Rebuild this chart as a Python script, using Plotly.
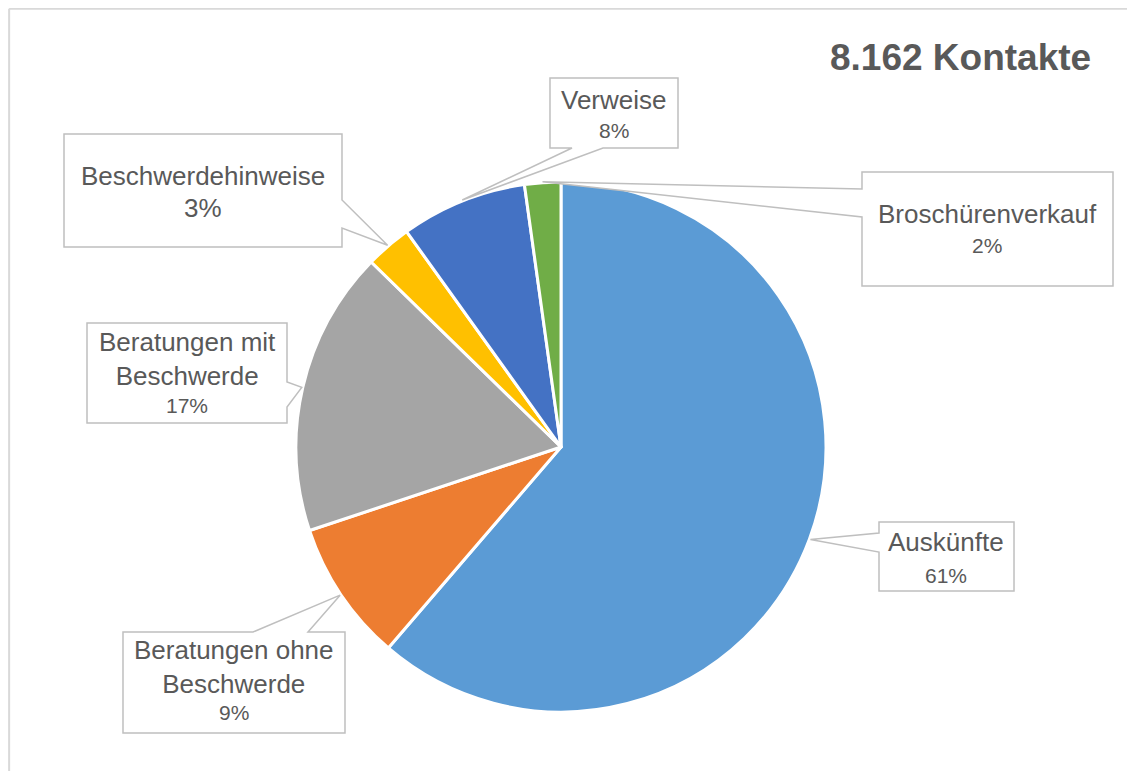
import math
import plotly.graph_objects as go

# ---------------- data ----------------
categories = ["Auskünfte", "Beratungen ohne Beschwerde", "Beratungen mit Beschwerde",
              "Beschwerdehinweise", "Verweise", "Broschürenverkauf"]
label_lines = ["Auskünfte", "Beratungen ohne<br>Beschwerde", "Beratungen mit<br>Beschwerde",
               "Beschwerdehinweise", "Verweise", "Broschürenverkauf"]
values = [5003, 702, 1420, 229, 628, 180]
colors = ["#5B9BD5", "#ED7D31", "#A5A5A5", "#FFC000", "#4472C4", "#70AD47"]
title_text = "8.162 Kontakte"

# ---------------- layout constants ----------------
OFF = 8                      # page offset of the figure (body margin)
W, H = 1135 - OFF, 771 - OFF
CX, CY, R = 561, 447, 265
TEXT = "#595959"
EDGE = "#BFBFBF"

def px(x):
    return (x - OFF) / W

def py(y):
    return 1 - (y - OFF) / H

# callout boxes (page-pixel layout): box l,t,r,b ; pointer side ; two base points ;
# name centre y ; pct centre y ; text centre x ; pct font size
callouts = [
    dict(box=(879, 522, 1014, 591), side="left", base=(533, 552), ny=542, py_=575, tx=946, pfs=21),
    dict(box=(123, 632, 345, 733), side="top", base=(253, 308), ny=667, py_=712, tx=234, pfs=21),
    dict(box=(87, 323, 287, 423), side="right", base=(382, 407), ny=359, py_=405, tx=187, pfs=21),
    dict(box=(64, 134, 342, 247), side="right", base=(200, 228), ny=176, py_=208, tx=203, pfs=26),
    dict(box=(550, 78, 678, 148), side="bottom", base=(572, 603), ny=100, py_=130, tx=614, pfs=21),
    dict(box=(862, 172, 1113, 286), side="left", base=(189, 217), ny=214, py_=245, tx=987, pfs=21),
]

total = sum(values)
fig = go.Figure()
fig.add_trace(go.Pie(
    labels=categories, values=values, sort=False, direction="clockwise", rotation=0,
    marker=dict(colors=colors, line=dict(color="white", width=3)),
    textinfo="none", hoverinfo="label+value+percent", showlegend=False,
    domain=dict(x=[px(CX - R), px(CX + R)], y=[py(CY + R), py(CY - R)]),
))

shapes = []
annotations = []
cum = 0
for i, v in enumerate(values):
    frac = v / total
    mid = (cum + frac / 2) * 2 * math.pi
    cum += frac
    tipx = CX + (R + 1) * math.sin(mid)
    tipy = CY - (R + 1) * math.cos(mid)
    c = callouts[i]
    l, t, r, b = c["box"]
    b1, b2 = c["base"]
    pts = [(l, t)]
    if c["side"] == "top":
        pts += [(b1, t), (tipx, tipy), (b2, t)]
    pts.append((r, t))
    if c["side"] == "right":
        pts += [(r, b1), (tipx, tipy), (r, b2)]
    pts.append((r, b))
    if c["side"] == "bottom":
        pts += [(b2, b), (tipx, tipy), (b1, b)]
    pts.append((l, b))
    if c["side"] == "left":
        pts += [(l, b2), (tipx, tipy), (l, b1)]
    path = "M " + " L ".join(f"{px(x):.5f},{py(y):.5f}" for x, y in pts) + " Z"
    shapes.append(dict(type="path", xref="paper", yref="paper", path=path,
                       fillcolor="white", line=dict(color=EDGE, width=1.5), layer="above"))
    annotations.append(dict(text=label_lines[i], x=px(c["tx"]), y=py(c["ny"]),
                            xref="paper", yref="paper", xanchor="center", yanchor="middle",
                            showarrow=False, font=dict(size=26, color=TEXT)))
    annotations.append(dict(text=f"{round(frac * 100)}%", x=px(c["tx"]), y=py(c["py_"]),
                            xref="paper", yref="paper", xanchor="center", yanchor="middle",
                            showarrow=False, font=dict(size=c["pfs"], color=TEXT)))

annotations.append(dict(text=f"<b>{title_text}</b>", x=px(960), y=py(58), xref="paper", yref="paper",
                        xanchor="center", yanchor="middle", showarrow=False,
                        font=dict(size=37, color=TEXT)))

# outer frame (top and left edges visible)
shapes.append(dict(type="line", xref="paper", yref="paper", x0=0.001, x1=px(1133), y0=0.999, y1=0.999,
                   line=dict(color="#D9D9D9", width=2)))
shapes.append(dict(type="line", xref="paper", yref="paper", x0=0.001, x1=0.001, y0=0.999, y1=0,
                   line=dict(color="#D9D9D9", width=2)))

fig.update_layout(
    width=W, height=H, margin=dict(l=0, r=0, t=0, b=0),
    paper_bgcolor="white", plot_bgcolor="white",
    font=dict(family="Liberation Sans, Arial, sans-serif", color=TEXT),
    shapes=shapes, annotations=annotations,
)

fig.write_html("out.html")
